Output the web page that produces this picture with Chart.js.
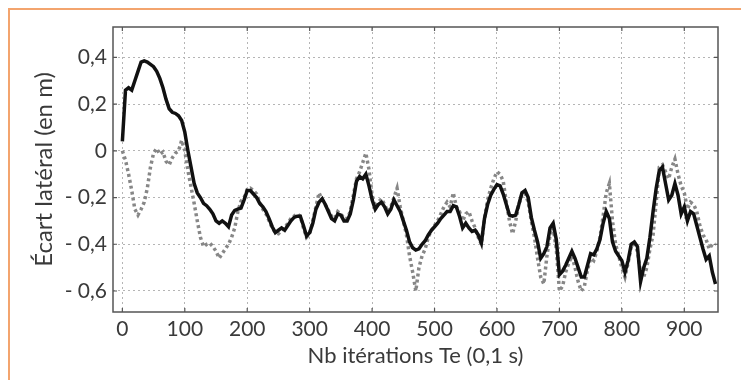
<!DOCTYPE html>
<html>
<head>
<meta charset="utf-8">
<script src="https://cdn.jsdelivr.net/npm/chart.js@4.4.1/dist/chart.umd.min.js"></script>
<style>
  html, body { margin: 0; padding: 0; background: #fff; }
  #wrap { position: relative; width: 741px; height: 380px; }
  #cadre { position: absolute; left: 8px; top: 8px; right: -4px; bottom: -4px;
           border-top: 2px solid #f3a46e; border-left: 2px solid #f3a46e; }
  canvas { position: absolute; left: 0; top: 0; }
</style>
</head>
<body>
<div id="wrap">
  <div id="cadre"></div>
  <canvas id="graphe" width="741" height="380"></canvas>
</div>
<script>
// abscisses (itérations), pas de 5
const iterations = [];
for (let i = 0; i <= 950; i += 5) iterations.push(i);

// écart latéral - trait plein noir
const ecartNoir = [
  0.04, 0.26, 0.27, 0.26, 0.30, 0.34, 0.38, 0.385, 0.38, 0.37,
  0.36, 0.34, 0.31, 0.27, 0.22, 0.18, 0.165, 0.16, 0.15, 0.13,
  0.08, 0.0, -0.07, -0.14, -0.18, -0.20, -0.225, -0.235, -0.25, -0.27,
  -0.30, -0.31, -0.30, -0.31, -0.325, -0.275, -0.255, -0.25, -0.245, -0.21,
  -0.17, -0.17, -0.185, -0.20, -0.225, -0.24, -0.26, -0.29, -0.325, -0.35,
  -0.34, -0.33, -0.34, -0.32, -0.30, -0.285, -0.28, -0.28, -0.32, -0.365,
  -0.35, -0.31, -0.25, -0.22, -0.205, -0.23, -0.26, -0.29, -0.30, -0.27,
  -0.275, -0.30, -0.30, -0.27, -0.21, -0.13, -0.11, -0.12, -0.10, -0.15,
  -0.21, -0.25, -0.23, -0.22, -0.24, -0.27, -0.25, -0.21, -0.235, -0.26,
  -0.30, -0.34, -0.39, -0.415, -0.425, -0.42, -0.40, -0.385, -0.36, -0.34,
  -0.325, -0.31, -0.29, -0.275, -0.26, -0.26, -0.235, -0.24, -0.28, -0.33,
  -0.31, -0.33, -0.345, -0.34, -0.36, -0.395, -0.29, -0.23, -0.19, -0.165,
  -0.145, -0.15, -0.185, -0.23, -0.275, -0.28, -0.275, -0.23, -0.18, -0.17,
  -0.20, -0.285, -0.34, -0.39, -0.46, -0.44, -0.41, -0.33, -0.31, -0.38,
  -0.53, -0.515, -0.49, -0.46, -0.43, -0.46, -0.50, -0.54, -0.54, -0.49,
  -0.44, -0.445, -0.42, -0.38, -0.31, -0.26, -0.29, -0.39, -0.43, -0.45,
  -0.47, -0.52, -0.47, -0.40, -0.39, -0.41, -0.56, -0.50, -0.46, -0.37,
  -0.26, -0.16, -0.085, -0.07, -0.14, -0.21, -0.19, -0.14, -0.19, -0.27,
  -0.24, -0.30, -0.26, -0.27, -0.32, -0.37, -0.42, -0.465, -0.45, -0.52,
  -0.57
];

// écart latéral - pointillés gris
const ecartGris = [
  0.0, -0.04, -0.10, -0.17, -0.25, -0.275, -0.25, -0.22, -0.16, -0.07,
  -0.01, 0.01, -0.015, -0.005, -0.045, -0.06, -0.03, -0.01, 0.0, 0.045,
  0.0, -0.085, -0.155, -0.225, -0.30, -0.37, -0.41, -0.40, -0.395, -0.41,
  -0.43, -0.46, -0.44, -0.42, -0.40, -0.37, -0.33, -0.26, -0.215, -0.20,
  -0.165, -0.16, -0.17, -0.185, -0.22, -0.25, -0.27, -0.30, -0.33, -0.35,
  -0.355, -0.34, -0.33, -0.31, -0.29, -0.28, -0.27, -0.28, -0.33, -0.37,
  -0.355, -0.30, -0.24, -0.18, -0.21, -0.23, -0.255, -0.28, -0.29, -0.26,
  -0.27, -0.29, -0.29, -0.26, -0.19, -0.12, -0.09, -0.05, -0.01, -0.08,
  -0.19, -0.24, -0.22, -0.205, -0.23, -0.26, -0.24, -0.20, -0.16, -0.24,
  -0.30, -0.36, -0.45, -0.52, -0.60, -0.50, -0.45, -0.42, -0.37, -0.34,
  -0.32, -0.30, -0.27, -0.24, -0.22, -0.24, -0.18, -0.24, -0.26, -0.30,
  -0.27, -0.26, -0.30, -0.33, -0.37, -0.40, -0.29, -0.21, -0.16, -0.12,
  -0.09, -0.10, -0.13, -0.22, -0.30, -0.355, -0.30, -0.23, -0.19, -0.18,
  -0.22, -0.30, -0.37, -0.46, -0.54, -0.57, -0.45, -0.36, -0.33, -0.42,
  -0.60, -0.58, -0.52, -0.48, -0.45, -0.50, -0.56, -0.60, -0.58, -0.51,
  -0.46, -0.47, -0.43, -0.37, -0.28, -0.18, -0.14, -0.30, -0.40, -0.45,
  -0.50, -0.54, -0.48, -0.41, -0.40, -0.43, -0.52, -0.54, -0.50, -0.42,
  -0.36, -0.22, -0.07, -0.06, -0.09, -0.12, -0.07, -0.035, -0.10, -0.15,
  -0.18, -0.25, -0.22, -0.23, -0.26, -0.32, -0.36, -0.38, -0.42, -0.40,
  -0.40
];

const xTicks = [0, 100, 200, 300, 400, 500, 600, 700, 800, 900];
const yTicks = [0.4, 0.2, 0, -0.2, -0.4, -0.6];
const yLabels = ['0,4', '0,2', '0', '- 0,2', '- 0,4', '- 0,6'];

const police = "Lato, 'Open Sans', sans-serif";
const couleurTexte = '#3a3a3a';

// cadre du graphe + petites graduations intérieures
const cadrePlugin = {
  id: 'cadre',
  afterDatasetsDraw(chart) {
    const ctx = chart.ctx;
    const a = chart.chartArea;
    const sx = chart.scales.x, sy = chart.scales.y;
    ctx.save();
    ctx.strokeStyle = '#555';
    ctx.lineWidth = 1.5;
    ctx.strokeRect(a.left, a.top, a.right - a.left, a.bottom - a.top);
    ctx.lineWidth = 1.2;
    ctx.beginPath();
    xTicks.forEach(v => {
      const px = sx.getPixelForValue(v);
      ctx.moveTo(px, a.bottom); ctx.lineTo(px, a.bottom - 4);
      ctx.moveTo(px, a.top); ctx.lineTo(px, a.top + 4);
    });
    yTicks.forEach(v => {
      const py = sy.getPixelForValue(v);
      ctx.moveTo(a.left, py); ctx.lineTo(a.left + 4, py);
      ctx.moveTo(a.right, py); ctx.lineTo(a.right - 4, py);
    });
    ctx.stroke();
    ctx.restore();
  }
};

new Chart(document.getElementById('graphe'), {
  type: 'line',
  data: {
    datasets: [{
      label: 'écart (trait plein)',
      data: iterations.map((x, i) => ({ x: x, y: ecartNoir[i] })),
      borderColor: '#111',
      borderWidth: 3.5,
      pointRadius: 0,
      tension: 0,
      order: 1
    }, {
      label: 'écart (pointillés)',
      data: iterations.map((x, i) => ({ x: x, y: ecartGris[i] })),
      borderColor: '#878787',
      borderWidth: 3.5,
      borderDash: [3, 3],
      pointRadius: 0,
      tension: 0,
      order: 2
    }]
  },
  options: {
    responsive: false,
    animation: false,
    events: [],
    layout: { padding: { top: 27, right: 23, left: 0, bottom: 0 } },
    plugins: { legend: { display: false }, tooltip: { enabled: false } },
    scales: {
      x: {
        type: 'linear',
        min: -15,
        max: 954,
        afterFit: s => { s.height = 68; },
        afterBuildTicks: s => { s.ticks = xTicks.map(v => ({ value: v })); },
        grid: { color: '#b5b5b5', lineWidth: 1, drawTicks: false },
        border: { display: false, dash: [2, 3] },
        ticks: { padding: 5, color: couleurTexte, font: { family: police, size: 21 }, maxRotation: 0 },
        title: { display: true, text: 'Nb itérations Te (0,1 s)', color: couleurTexte,
                 font: { family: police, size: 22 }, padding: { top: 0, bottom: 11 } }
      },
      y: {
        type: 'linear',
        min: -0.69,
        max: 0.53,
        afterFit: s => { s.width = 113; },
        afterBuildTicks: s => { s.ticks = yTicks.map(v => ({ value: v })); },
        grid: { color: '#b5b5b5', lineWidth: 1, drawTicks: false },
        border: { display: false, dash: [2, 3] },
        ticks: {
          padding: 6, color: couleurTexte, font: { family: police, size: 21 },
          callback: v => yLabels[yTicks.indexOf(v)]
        },
        title: { display: true, text: 'Écart latéral (en m)', color: couleurTexte,
                 font: { family: police, size: 24 }, padding: { top: 30, bottom: 0 } }
      }
    }
  },
  plugins: [cadrePlugin]
});
</script>
</body>
</html>
